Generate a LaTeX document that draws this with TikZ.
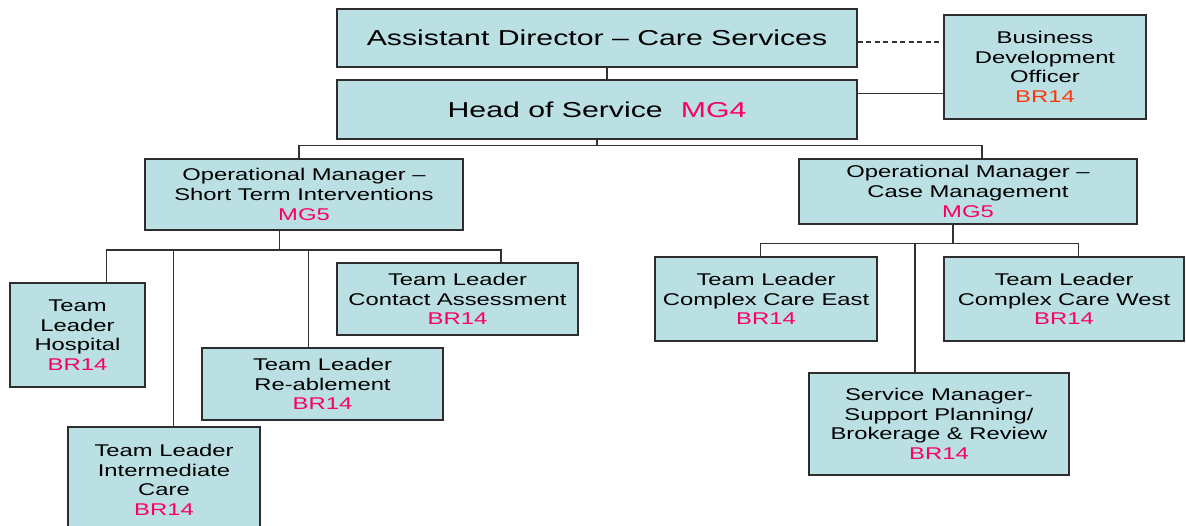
\documentclass[tikz,border=0pt]{standalone}
\usepackage{fontspec}
\setmainfont{Liberation Sans}[FakeStretch=1.4]
\definecolor{boxfill}{RGB}{186,224,227}
\definecolor{boxline}{RGB}{45,45,45}
\definecolor{linegray}{RGB}{50,50,50}
\definecolor{gradepink}{RGB}{250,0,100}
\definecolor{gradeorange}{RGB}{250,55,10}
\newcommand{\grade}[1]{\textcolor{gradepink}{#1}}
\begin{document}
\begin{tikzpicture}[
    x=1pt, y=-1pt,
    every node/.style={draw=boxline, fill=boxfill, line width=1.3pt,
                       align=center, inner sep=0pt,
                       font=\fontsize{17}{19.6}\selectfont},
    box/.style 2 args={minimum width=#1pt, minimum height=#2pt},
    title/.style={font=\fontsize{21.6}{24}\selectfont},
    link/.style={draw=linegray, line width=1.1pt}]

\useasboundingbox (0,0) rectangle (1186,526);

% top of the chart
\node[box={520}{58}, title] (ad) at (597,38) {Assistant Director -- Care Services};
\node[box={520}{59}, title] (hos) at (597,109.5) {Head of Service\hspace{18pt}\grade{MG4}};
\node[box={202}{104}] (bdo) at (1045,67)
    {Business\\Development\\Officer\\\textcolor{gradeorange}{BR14}};

% operational managers
\node[box={318}{71}] (oms) at (304,194.5)
    {Operational Manager --\\Short Term Interventions\\\grade{MG5}};
\node[box={338}{65}] (omc) at (968,191.5)
    {Operational Manager --\\Case Management\\\grade{MG5}};

% short term interventions
\node[box={135}{104}] (hosp) at (77.5,335) {Team\\Leader\\Hospital\\\grade{BR14}};
\node[box={192}{106}] (inter) at (164,480)
    {Team Leader\\Intermediate\\Care\\\grade{BR14}};
\node[box={241}{72}] (reab) at (322.5,384) {Team Leader\\Re-ablement\\\grade{BR14}};
\node[box={241}{72}] (contact) at (457.5,299)
    {Team Leader\\Contact Assessment\\\grade{BR14}};

% case management
\node[box={222}{84}] (east) at (766,299)
    {Team Leader\\Complex Care East\\\grade{BR14}};
\node[box={240}{84}] (west) at (1064,299)
    {Team Leader\\Complex Care West\\\grade{BR14}};
\node[box={260}{102}] (svc) at (939,424)
    {Service Manager-\\Support Planning/\\Brokerage \& Review\\\grade{BR14}};

% lines
\coordinate (hbusl) at (299,145.5);
\coordinate (hbusr) at (982,145.5);
\coordinate (lbus) at (279.3,250);
\coordinate (rbus) at (953,243.5);

\draw[link] ([xshift=10pt]ad.south) -- ([xshift=10pt]hos.north);
\draw[link] (hos.south) -- (hos.south |- hbusl);
\draw[link] (oms.north -| hbusl) -- (hbusl) -- (hbusr) -- (omc.north -| hbusr);
\draw[link, dash pattern=on 5pt off 3.5pt] ([yshift=-4pt]ad.east) -- ([yshift=-4pt]ad.east -| bdo.west);
\draw[link] ([yshift=16pt]hos.east) -- ([yshift=16pt]hos.east -| bdo.west);

\draw[link] (oms.south -| lbus) -- (lbus);
\draw[link] (hosp.north -| 106.7,0) |- (lbus) -| (contact.north -| 501,0);
\foreach \x/\n in {173.7/inter, 308.3/reab}
    \draw[link] (\n.north -| \x,0) -- (\x,250);

\draw[link] (omc.south -| rbus) -- (rbus);
\draw[link] (east.north -| 760.8,0) |- (rbus) -| (west.north -| 1078.7,0);
\draw[link] (svc.north -| 915,0) -- (915,243.5);

\end{tikzpicture}
\end{document}
